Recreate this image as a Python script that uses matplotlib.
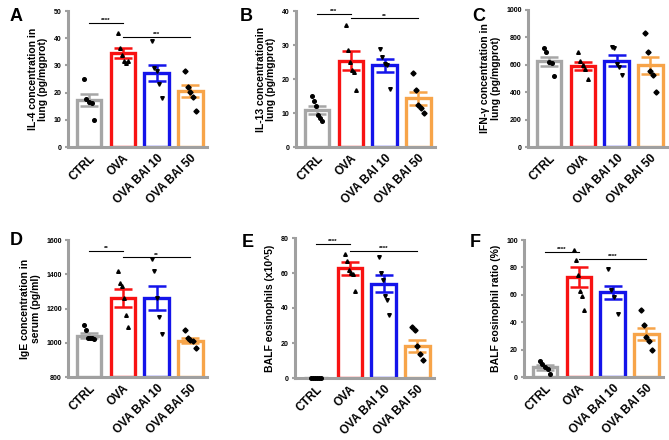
import numpy as np
import matplotlib
matplotlib.use("Agg")
import matplotlib.pyplot as plt

plt.rcParams['font.family'] = ['Liberation Sans', 'DejaVu Sans']
plt.rcParams['font.weight'] = 'bold'

groups = ["CTRL", "OVA", "OVA BAI 10", "OVA BAI 50"]
colors = ["#a6a6a6", "#f81212", "#1414ea", "#f7a449"]
markers = ["o", "^", "v", "D"]

# panel A: IL-4
a_mean = [17.2, 34.5, 27.2, 20.6]
a_sem = [2.2, 1.8, 3.0, 2.2]
a_pts = [[25, 17.5, 16.5, 16, 10],
         [42, 36.5, 34, 31.5, 31, 31.5],
         [39, 29, 28, 23, 18],
         [28, 22, 20.3, 18.4, 13.1]]
# panel B: IL-13
b_mean = [11.0, 25.4, 24.1, 14.3]
b_sem = [1.2, 2.8, 1.9, 1.9]
b_pts = [[15, 13.5, 12, 9.5, 8.5, 7.5],
         [35.9, 28.5, 25, 22.6, 22.1, 16.7],
         [28.7, 26.5, 24.5, 24, 17],
         [21.8, 16.9, 12.3, 11.6, 10]]
# panel C: IFN-y
c_mean = [625, 592, 630, 598]
c_sem = [35, 28, 38, 62]
c_pts = [[723, 692, 619, 612, 515],
         [692, 626, 595, 570, 493],
         [730, 722, 607, 583, 529],
         [830, 692, 558, 522, 400]]
# panel D: IgE
d_mean = [1042, 1260, 1262, 1012]
d_sem = [14, 52, 68, 14]
d_pts = [[1105, 1075, 1030, 1025, 1025, 1020],
         [1420, 1350, 1330, 1260, 1160, 1090],
         [1487, 1419, 1259, 1151, 1050],
         [1077, 1028, 1018, 1010, 971]]
# panel E: BALF eosinophils
e_mean = [0, 62.6, 53.8, 18.2]
e_sem = [0, 3.6, 4.8, 3.4]
e_pts = [[0, 0, 0, 0, 0, 0],
         [71, 67, 62, 60, 59.5, 50],
         [69, 60, 56, 47, 44.6, 36],
         [29.3, 27.4, 18.2, 14, 10.5]]
# panel F: eosinophil ratio
f_mean = [7.0, 73.2, 61.8, 31.5]
f_sem = [1.6, 7.2, 4.8, 4.6]
f_pts = [[11.5, 9.3, 7.3, 5.6, 2],
         [93, 85.4, 74.4, 63, 59, 48.8],
         [78.5, 63.4, 58.5, 46.3],
         [48.8, 37.8, 29.3, 26.3, 20]]

panels = [
    ("A", "IL-4 concentration in\nlung (pg/mgprot)", a_mean, a_sem, a_pts,
     (0, 50), [0, 10, 20, 30, 40, 50], [(0, 1, 45.5, "****"), (1, 3, 40.3, "***")]),
    ("B", "IL-13 concentrationin\nlung (pg/mgprot)", b_mean, b_sem, b_pts,
     (0, 40), [0, 10, 20, 30, 40], [(0, 1, 39.1, "***"), (1, 3, 37.8, "**")]),
    ("C", "IFN-\u03b3 concentration in\nlung (pg/mgprot)", c_mean, c_sem, c_pts,
     (0, 1000), [0, 200, 400, 600, 800, 1000], []),
    ("D", "IgE concentration in\nserum (pg/ml)", d_mean, d_sem, d_pts,
     (800, 1600), [800, 1000, 1200, 1400, 1600], [(0, 1, 1537, "**"), (1, 3, 1498, "**")]),
    ("E", "BALF eosinophils (x10^5)", e_mean, e_sem, e_pts,
     (0, 80), [0, 20, 40, 60, 80], [(0, 1, 76.7, "****"), (1, 3, 72.7, "****")]),
    ("F", "BALF eosinophil ratio (%)", f_mean, f_sem, f_pts,
     (0, 100), [0, 20, 40, 60, 80, 100], [(0, 1, 91, "****"), (1, 3, 86, "****")]),
]

W, H = 669, 440
# axes boxes in pixels: left, right, bottom, top (from top of figure)
boxes = [(68, 207, 147, 11), (296, 435, 147, 11), (528, 667, 147, 10),
         (68, 207, 377, 240), (295, 434, 378, 238), (524, 663, 377, 240)]
letter_xy = [(10, 8), (240, 8), (472, 8), (10, 232), (242, 234), (470, 234)]

fig = plt.figure(figsize=(W / 100, H / 100), dpi=100)
spine_col = "#a0a0a0"

for (letter, ylab, mean, sem, pts, ylim, yticks, sig), box, lxy in zip(panels, boxes, letter_xy):
    l, r, b, t = box
    ax = fig.add_axes([l / W, (H - b) / H, (r - l) / W, (b - t) / H])
    x = np.arange(4)
    ax.bar(x, np.array(mean) - ylim[0], bottom=ylim[0], width=0.72, color="white",
           edgecolor=colors, linewidth=2.4, zorder=2)
    for i in range(4):
        ax.errorbar(x[i], mean[i], yerr=sem[i], color=colors[i], capsize=6.5,
                    capthick=1.8, elinewidth=1.8, zorder=3)
        n = len(pts[i])
        offs = np.linspace(-0.15, 0.15, n)
        ax.plot(x[i] + offs, pts[i], linestyle="none", marker=markers[i],
                markersize=2.6, color="black", zorder=4, clip_on=False)
    for g1, g2, yv, txt in sig:
        ax.plot([g1, g2], [yv, yv], color="black", lw=0.8, zorder=5, clip_on=False)
        ax.text((g1 + g2) / 2, yv, txt, ha="center", va="bottom", fontsize=4.5)
    ax.set_xlim(-0.62, 3.49)
    ax.set_ylim(*ylim)
    ax.set_yticks(yticks)
    ax.set_xticks(x)
    ax.set_xticklabels(groups, rotation=45, ha="right", rotation_mode="anchor",
                       fontsize=8.5, fontweight="bold")
    ax.tick_params(axis="y", labelsize=5, length=2.5, width=1.5, color=spine_col, pad=2)
    ax.tick_params(axis="x", length=0, pad=4)
    for s in ["top", "right"]:
        ax.spines[s].set_visible(False)
    for s in ["left", "bottom"]:
        ax.spines[s].set_color(spine_col)
        ax.spines[s].set_linewidth(2.2)
    ax.set_ylabel(ylab, fontsize=7.5, fontweight="bold", labelpad=4, linespacing=1.1)
    fig.text(lxy[0] / W, 1 - lxy[1] / H, letter, fontsize=13, fontweight="bold",
             va="top", ha="left")

fig.savefig("out.png", dpi=100)
